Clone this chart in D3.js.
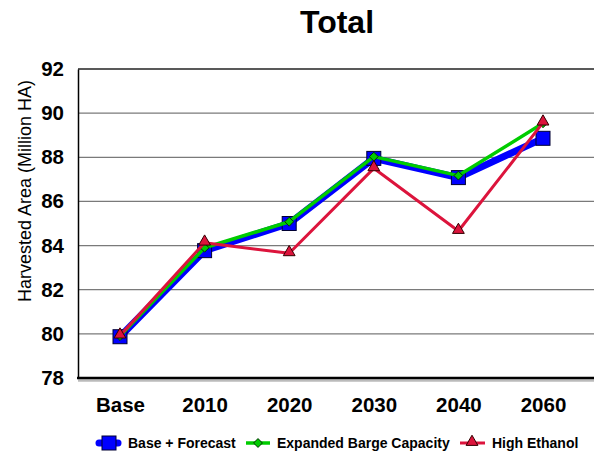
<!DOCTYPE html>
<html><head><meta charset="utf-8">
<script src="https://cdn.jsdelivr.net/npm/d3@7"></script>
<style>
html,body{margin:0;padding:0;background:#fff;}
svg{display:block;font-family:"Liberation Sans",Arial,sans-serif;}
</style></head>
<body><svg id="c" width="594" height="457"></svg>
<script>
const categories = ["Base","2010","2020","2030","2040","2060"];
const baseForecast = [79.87, 83.77, 85.0, 87.95, 87.08, 88.86];
const expandedBarge = [79.9, 83.9, 85.08, 88.03, 87.17, 89.54];
const highEthanol = [79.92, 84.13, 83.65, 87.5, 84.66, 89.57];
const yTicks = [78,80,82,84,86,88,90,92];
const seriesNames = ["Base + Forecast","Expanded Barge Capacity","High Ethanol"];

const svg = d3.select("#c");
const L = 78, T = 69, B = 378, R = 600;
const x = d3.scalePoint().domain(categories).range([120, 543]);
const y = d3.scaleLinear().domain([78, 92]).range([B, T]);

// title
svg.append("text").attr("x", 337).attr("y", 33).attr("text-anchor","middle")
  .attr("font-size", 32).attr("font-weight","bold").text("Total");

// gridlines
svg.append("g").selectAll("line").data(yTicks.filter(d=>d>78 && d<92)).join("line")
  .attr("x1", L).attr("x2", R).attr("y1", d=>y(d)).attr("y2", d=>y(d))
  .attr("stroke", "#7a7a7a").attr("stroke-width", 1.2);
// top border
svg.append("line").attr("x1", L).attr("x2", R).attr("y1", y(92)).attr("y2", y(92))
  .attr("stroke", "#222").attr("stroke-width", 1.5);

// y axis
const yAxis = d3.axisLeft(y).tickValues(yTicks).tickSize(0).tickPadding(14).tickFormat(d3.format("d"));
const gy = svg.append("g").attr("transform", `translate(${L},0)`).call(yAxis);
gy.select(".domain").attr("stroke","#000").attr("stroke-width",1.5);
gy.selectAll("text").attr("font-size", 20.5).attr("font-weight","bold").attr("fill","#000")
  .attr("font-family","Liberation Sans, Arial, sans-serif");

// x axis
const xAxis = d3.axisBottom(x).tickSize(0).tickPadding(19);
const gx = svg.append("g").attr("transform", `translate(0,${B})`).call(xAxis);
gx.select(".domain").remove();
gx.selectAll("text").attr("font-size", 20.5).attr("font-weight","bold").attr("fill","#000")
  .attr("font-family","Liberation Sans, Arial, sans-serif");
// bottom axis with shadow
svg.append("line").attr("x1", L).attr("x2", R).attr("y1", B+2.5).attr("y2", B+2.5)
  .attr("stroke", "#bbb").attr("stroke-width", 2.5);
svg.append("line").attr("x1", L-1).attr("x2", R).attr("y1", B).attr("y2", B)
  .attr("stroke", "#000").attr("stroke-width", 2.5);

// y title
svg.append("text").attr("transform", `translate(31,${191}) rotate(-90)`)
  .attr("text-anchor","middle").attr("font-size", 18).attr("fill","#000")
  .text("Harvested Area (Million HA)");

const line = d3.line().x((d,i)=>x(categories[i])).y(d=>y(d));

// Blue series
svg.append("path").datum(baseForecast).attr("d", line).attr("fill","none")
  .attr("stroke","#0000ff").attr("stroke-width", 7).attr("stroke-linejoin","round");
svg.append("g").selectAll("rect").data(baseForecast).join("rect")
  .attr("x",(d,i)=>x(categories[i])-7).attr("y",d=>y(d)-7).attr("width",14).attr("height",14)
  .attr("fill","#0000ff").attr("stroke","#000033").attr("stroke-width",1);

// Green series
svg.append("path").datum(expandedBarge).attr("d", line).attr("fill","none")
  .attr("stroke","#00cc00").attr("stroke-width", 3.5).attr("stroke-linejoin","round");
const diamond = d3.symbol().type(d3.symbolDiamond2).size(50);
svg.append("g").selectAll("path").data(expandedBarge).join("path")
  .attr("d", diamond).attr("transform",(d,i)=>`translate(${x(categories[i])},${y(d)})`)
  .attr("fill","#00cc00").attr("stroke","#003300").attr("stroke-width",1);

// Red series
svg.append("path").datum(highEthanol).attr("d", line).attr("fill","none")
  .attr("stroke","#dc143c").attr("stroke-width", 3).attr("stroke-linejoin","round");
const tri = d3.symbol().type(d3.symbolTriangle).size(60);
svg.append("g").selectAll("path").data(highEthanol).join("path")
  .attr("d", tri).attr("transform",(d,i)=>`translate(${x(categories[i])},${y(d)-1})`)
  .attr("fill","#dc143c").attr("stroke","#330000").attr("stroke-width",1);

// Legend
const ly = 443;
const leg = svg.append("g");
// blue
leg.append("line").attr("x1",99).attr("x2",118).attr("y1",ly).attr("y2",ly)
  .attr("stroke","#0000ff").attr("stroke-width",7).attr("stroke-linecap","round");
leg.append("rect").attr("x",102).attr("y",ly-7).attr("width",14).attr("height",14)
  .attr("fill","#0000ff").attr("stroke","#000033").attr("stroke-width",1);
leg.append("text").attr("x",128).attr("y",ly+5).attr("font-size",14).attr("font-weight","bold").text(seriesNames[0]);
// green
leg.append("line").attr("x1",246).attr("x2",270).attr("y1",ly).attr("y2",ly)
  .attr("stroke","#00cc00").attr("stroke-width",3.5);
leg.append("path").attr("d",diamond).attr("transform",`translate(258,${ly})`)
  .attr("fill","#00cc00").attr("stroke","#003300").attr("stroke-width",1);
leg.append("text").attr("x",277).attr("y",ly+5).attr("font-size",14).attr("font-weight","bold").text(seriesNames[1]);
// red
leg.append("line").attr("x1",460).attr("x2",485).attr("y1",ly).attr("y2",ly)
  .attr("stroke","#dc143c").attr("stroke-width",3);
leg.append("path").attr("d",tri).attr("transform",`translate(472,${ly-1})`)
  .attr("fill","#dc143c").attr("stroke","#330000").attr("stroke-width",1);
leg.append("text").attr("x",492).attr("y",ly+5).attr("font-size",14).attr("font-weight","bold").text(seriesNames[2]);
</script></body></html>
